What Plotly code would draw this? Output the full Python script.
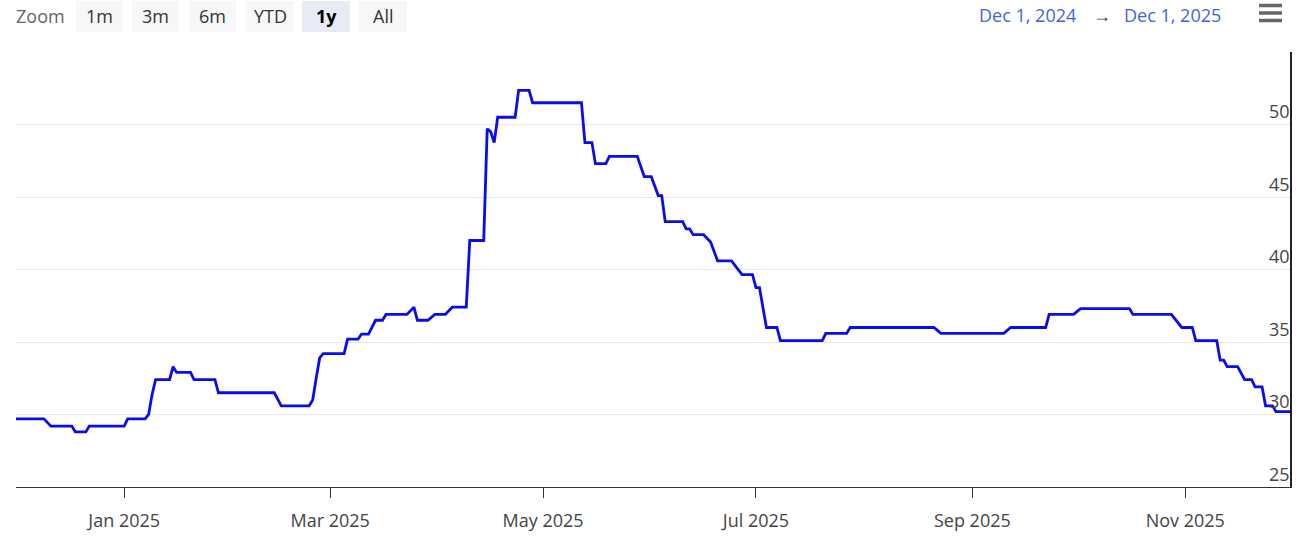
import plotly.graph_objects as go

# ---- data ----
dates = [
    "2024-12-01", "2024-12-09", "2024-12-11", "2024-12-17", "2024-12-18", "2024-12-21",
    "2024-12-22", "2025-01-01", "2025-01-02", "2025-01-07", "2025-01-08", "2025-01-09",
    "2025-01-10", "2025-01-14", "2025-01-15", "2025-01-16", "2025-01-20", "2025-01-21",
    "2025-01-27", "2025-01-28", "2025-02-13", "2025-02-15", "2025-02-23", "2025-02-24",
    "2025-02-25", "2025-02-26", "2025-02-27", "2025-03-05", "2025-03-06", "2025-03-09",
    "2025-03-10", "2025-03-12", "2025-03-14", "2025-03-16", "2025-03-17", "2025-03-23",
    "2025-03-25", "2025-03-26", "2025-03-29", "2025-03-31", "2025-04-03", "2025-04-05",
    "2025-04-09", "2025-04-10", "2025-04-14", "2025-04-15", "2025-04-16", "2025-04-17",
    "2025-04-18", "2025-04-23", "2025-04-24", "2025-04-27", "2025-04-28", "2025-05-12",
    "2025-05-13", "2025-05-15", "2025-05-16", "2025-05-19", "2025-05-20", "2025-05-28",
    "2025-05-30", "2025-06-01", "2025-06-03", "2025-06-04", "2025-06-05", "2025-06-10",
    "2025-06-11", "2025-06-12", "2025-06-13", "2025-06-16", "2025-06-18", "2025-06-20",
    "2025-06-24", "2025-06-27", "2025-06-30", "2025-07-01", "2025-07-02", "2025-07-04",
    "2025-07-07", "2025-07-08", "2025-07-20", "2025-07-21", "2025-07-27", "2025-07-28",
    "2025-08-21", "2025-08-23", "2025-09-10", "2025-09-12", "2025-09-22", "2025-09-23",
    "2025-09-30", "2025-10-02", "2025-10-16", "2025-10-17", "2025-10-28", "2025-10-31",
    "2025-11-03", "2025-11-04", "2025-11-10", "2025-11-11", "2025-11-12", "2025-11-13",
    "2025-11-16", "2025-11-18", "2025-11-20", "2025-11-21", "2025-11-23", "2025-11-24",
    "2025-11-26", "2025-11-27", "2025-12-01",
]
values = [
    29.7, 29.7, 29.2, 29.2, 28.8, 28.8,
    29.2, 29.2, 29.7, 29.7, 30.0, 31.4,
    32.4, 32.4, 33.3, 32.9, 32.9, 32.4,
    32.4, 31.5, 31.5, 30.6, 30.6, 31.0,
    32.5, 33.9, 34.2, 34.2, 35.2, 35.2,
    35.55, 35.55, 36.5, 36.5, 36.9, 36.9,
    37.4, 36.5, 36.5, 36.9, 36.9, 37.4,
    37.4, 42.0, 42.0, 49.7, 49.5, 48.75,
    50.5, 50.5, 52.35, 52.35, 51.5, 51.5,
    48.75, 48.75, 47.3, 47.3, 47.8, 47.8,
    46.4, 46.4, 45.1, 45.1, 43.3, 43.3,
    42.8, 42.8, 42.4, 42.4, 41.9, 40.6,
    40.6, 39.65, 39.65, 38.75, 38.75, 36.0,
    36.0, 35.1, 35.1, 35.6, 35.6, 36.0,
    36.0, 35.6, 35.6, 36.0, 36.0, 36.9,
    36.9, 37.3, 37.3, 36.9, 36.9, 36.0,
    36.0, 35.1, 35.1, 33.75, 33.75, 33.3,
    33.3, 32.4, 32.4, 31.9, 31.9, 30.6,
    30.6, 30.2, 30.2,
]
assert len(dates) == len(values)

x_range = ["2024-12-01", "2025-12-01"]
y_ticks = [25, 30, 35, 40, 45, 50, 55]
y_ticktext = ["25", "30", "35", "40", "45", "50", ""]
zoom_buttons = ["1m", "3m", "6m", "YTD", "1y", "All"]
selected_button = "1y"
range_from = "Dec 1, 2024"
range_to = "Dec 1, 2025"

# ---- geometry ----
W, H = 1312, 542
ML, MR, MT, MB = 16, 22, 52, 55
PW, PH = W - ML - MR, H - MT - MB
FONT = "Open Sans"


def px(xs):
    """screen x pixel -> paper x"""
    return (xs - ML) / PW


def py(ys):
    """screen y pixel -> paper y"""
    return (H - MB - ys) / PH


fig = go.Figure()
fig.add_trace(go.Scatter(
    x=dates, y=values, mode="lines",
    line=dict(color="#0a0af5", width=2.8),
    hoverinfo="x+y", showlegend=False,
))

shapes = []
annotations = []

# toolbar
annotations.append(dict(text="Zoom", x=px(40), y=py(16), xref="paper", yref="paper",
                        showarrow=False, xanchor="center", yanchor="middle", borderpad=0,
                        font=dict(family=FONT, size=18, color="#666666")))
btn_x = [(76, 123), (132, 179), (189, 236), (246, 294), (302, 350), (359, 407)]
for label, (a, b) in zip(zoom_buttons, btn_x):
    sel = label == selected_button
    shapes.append(dict(type="rect", xref="paper", yref="paper",
                       x0=px(a), x1=px(b), y0=py(32), y1=py(1),
                       fillcolor="#e6ebf5" if sel else "#f7f7f7",
                       line=dict(width=0), layer="below"))
    annotations.append(dict(text=f"<b>{label}</b>" if sel else label,
                            x=px((a + b) / 2), y=py(16), xref="paper", yref="paper",
                            showarrow=False, xanchor="center", yanchor="middle", borderpad=0,
                            font=dict(family=FONT, size=18,
                                      color="#000000" if sel else "#333333")))

# date range inputs
for txt, xc, col in [(range_from, 1027, "#4464dc"), ("\u2192", 1102, "#444444"),
                     (range_to, 1172, "#4464dc")]:
    annotations.append(dict(text=txt, x=px(xc), y=py(15), xref="paper", yref="paper",
                            showarrow=False, xanchor="center", yanchor="middle", borderpad=0,
                            font=dict(family=FONT, size=18, color=col)))

# hamburger menu icon
for yy in (5.5, 13, 20.5):
    shapes.append(dict(type="line", xref="paper", yref="paper",
                       x0=px(1259), x1=px(1282), y0=py(yy), y1=py(yy),
                       line=dict(color="#666666", width=3.5)))

fig.update_layout(
    width=W, height=H,
    margin=dict(l=ML, r=MR, t=MT, b=MB, pad=0, autoexpand=False),
    paper_bgcolor="white", plot_bgcolor="white",
    font=dict(family=FONT, size=18, color="#444444"),
    showlegend=False,
    shapes=shapes, annotations=annotations,
    xaxis=dict(
        type="date", range=x_range, automargin=False,
        showgrid=False, zeroline=False,
        showline=True, linecolor="#333333", linewidth=1,
        ticks="outside", ticklen=10, tickcolor="#333333", tickwidth=1,
        dtick="M2", tick0="2025-01-01", tickformat="%b %Y",
        tickfont=dict(family=FONT, size=18, color="#444444"),
        ticklabelstandoff=7,
    ),
    yaxis=dict(
        side="right", range=[25, 55], automargin=False,
        tickvals=y_ticks, ticktext=y_ticktext,
        ticklabelposition="inside top",
        showgrid=True, gridcolor="#e6e6e6", gridwidth=1,
        zeroline=False, showline=True, linecolor="#222222", linewidth=2,
        ticks="",
        tickfont=dict(family=FONT, size=18, color="#444444"),
    ),
)

fig.write_html(
    "out.html",
    config={"displayModeBar": False},
    post_script="document.body.style.margin='0';document.body.style.padding='0';",
)
